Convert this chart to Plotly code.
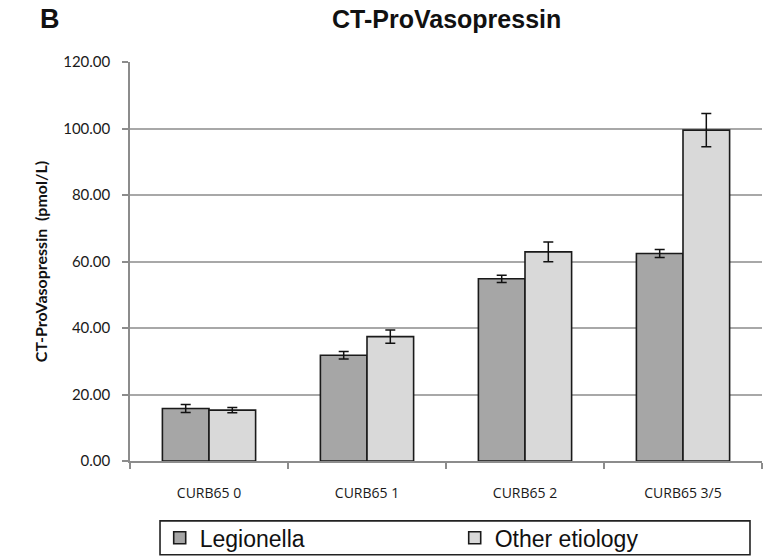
import plotly.graph_objects as go

categories = ["CURB65 0", "CURB65 1", "CURB65 2", "CURB65 3/5"]
legionella = [15.8, 31.8, 54.8, 62.4]
legionella_err = [1.2, 1.1, 1.1, 1.2]
other = [15.3, 37.4, 62.9, 99.5]
other_err = [0.8, 2.0, 3.0, 5.0]
y_ticks = [0, 20, 40, 60, 80, 100, 120]

bar_line = dict(color="#1a1a1a", width=1.6)
err_style = dict(thickness=1.5, width=5, color="#111111")

fig = go.Figure()
fig.add_trace(go.Bar(
    x=categories, y=legionella, name="Legionella",
    marker=dict(color="#a6a6a6", line=bar_line),
    error_y=dict(type="data", array=legionella_err, visible=True, **err_style),
))
fig.add_trace(go.Bar(
    x=categories, y=other, name="Other etiology",
    marker=dict(color="#d9d9d9", line=bar_line),
    error_y=dict(type="data", array=other_err, visible=True, **err_style),
))

# legend frame drawn as a paper-space rectangle below the plot
fig.add_shape(type="rect", xref="paper", yref="paper",
              x0=0.0475, x1=0.981, y0=-0.235, y1=-0.150,
              line=dict(color="#222222", width=1.6), fillcolor="rgba(0,0,0,0)")

fig.update_layout(
    width=767, height=559,
    margin=dict(l=130, r=5, t=62, b=98, autoexpand=False),
    paper_bgcolor="white", plot_bgcolor="white",
    barmode="group", bargap=0.41, bargroupgap=0,
    showlegend=True,
    legend=dict(
        orientation="h", x=0.047, xanchor="left",
        yref="container", y=0.038, yanchor="middle",
        borderwidth=0, bgcolor="rgba(0,0,0,0)",
        font=dict(family="Liberation Sans, Arial", size=23, color="#111111"),
        entrywidth=250,
    ),
    annotations=[
        dict(text="<b>CT-ProVasopressin</b>", xref="paper", yref="paper",
             x=0.5, y=1, yshift=43, showarrow=False, xanchor="center", yanchor="middle",
             font=dict(family="Liberation Sans, Arial", size=25, color="#111111")),
        dict(text="<b>B</b>", xref="paper", yref="paper",
             x=0, xshift=-80, y=1, yshift=43, showarrow=False, xanchor="center", yanchor="middle",
             font=dict(family="Liberation Sans, Arial", size=27, color="#111111")),
    ],
)

fig.update_yaxes(
    range=[0, 120], tickvals=y_ticks, ticktext=[f"{v:.2f}" for v in y_ticks],
    showgrid=True, gridcolor="#a8a8a8", gridwidth=1.5,
    showline=True, linecolor="#8c8c8c", linewidth=1.5,
    ticks="outside", ticklen=6, tickcolor="#8c8c8c", tickwidth=1.5,
    ticklabelstandoff=9,
    zeroline=False,
    tickfont=dict(family="Lato", size=15, color="#1a1a1a"),
    title=dict(text="<b>CT-ProVasopressin  (pmol/L)</b>", standoff=12,
               font=dict(family="Lato", size=16, color="#111111")),
)
fig.update_xaxes(
    showline=True, linecolor="#8c8c8c", linewidth=1.5,
    ticks="outside", tickson="boundaries", ticklen=6, tickcolor="#8c8c8c", tickwidth=1.5,
    ticklabelstandoff=18,
    tickfont=dict(family="Open Sans", size=14, color="#1a1a1a"),
)

fig.write_html("out.html")
